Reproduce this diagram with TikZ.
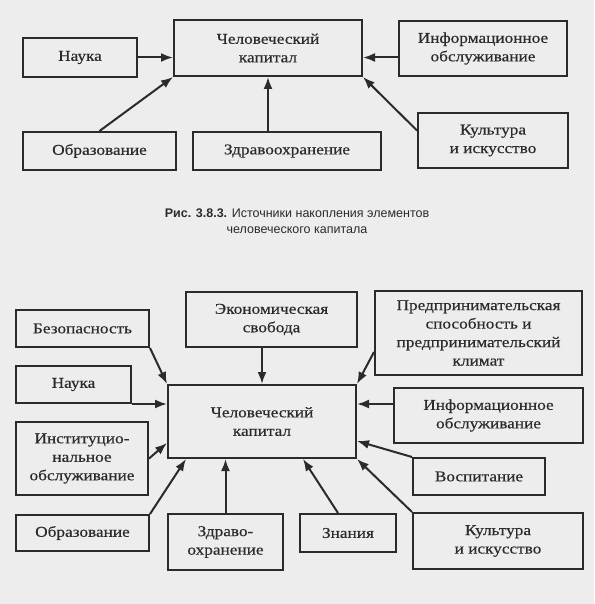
\documentclass[tikz,border=0pt]{standalone}
\usepackage{fontspec}
\setmainfont{Liberation Serif}[FakeStretch=1.15, FakeBold=0.5]
\setsansfont{Liberation Sans}
\usepackage{xcolor}
\definecolor{paper}{HTML}{EDEDED}
\definecolor{ink}{HTML}{2B2B2B}
\usepackage{tikz}
\usetikzlibrary{arrows.meta, positioning, calc}

\begin{document}
\begin{tikzpicture}[x=1pt, y=-1pt, >={Latex[length=12pt,width=9pt]},
    box/.style={draw=ink, line width=2pt, text=ink, align=center,
                inner sep=0pt, font=\fontsize{15}{18.5}\selectfont},
    link/.style={->, draw=ink, line width=2pt}]

  \fill[paper] (0,0) rectangle (594,604);
  \useasboundingbox (0,0) rectangle (594,604);

  % first figure
  \node[box, minimum width=188pt, minimum height=56pt] (kap1) at (268,48)
        {Человеческий\\капитал};
  \node[box, minimum width=114pt, minimum height=39pt] (nauka1) at (80,57.5)
        {Наука};
  \node[box, minimum width=168pt, minimum height=55pt] (info1) at (483,48.5)
        {Информационное\\обслуживание};
  \node[box, minimum width=153pt, minimum height=38pt] (obr1) at (99.5,151)
        {Образование};
  \node[box, minimum width=188pt, minimum height=38pt] (zdr1) at (287,151)
        {Здравоохранение};
  \node[box, minimum width=150pt, minimum height=55pt] (kult1) at (493,140.5)
        {Культура\\и искусство};

  \draw[link] (nauka1.east) -- (nauka1.east -| kap1.west);
  \draw[link] (info1.west |- nauka1.east) -- (kap1.east |- nauka1.east);
  \draw[link] (obr1.north) -- (kap1.south west);
  \draw[link] (zdr1.north -| kap1.south) -- (kap1.south);
  \draw[link] ([yshift=10pt]kult1.west) -- (kap1.south east);

  \node[font=\sffamily\fontsize{12.5}{16}\selectfont, text=ink, align=center] (cap1)
        at (297,221)
        {\textbf{Рис. 3.8.3.} Источники накопления элементов\\человеческого капитала};

  % second figure
  \node[box, minimum width=188pt, minimum height=73pt] (kap2) at (262,421.5)
        {Человеческий\\капитал};
  \node[box, minimum width=133pt, minimum height=37pt] (bez) at (82.5,328.5)
        {Безопасность};
  \node[box, minimum width=171pt, minimum height=55pt] (econ) at (271.5,319.5)
        {Экономическая\\свобода};
  \node[box, minimum width=207pt, minimum height=84pt] (pred) at (478.5,333)
        {Предпринимательская\\способность и\\предпринимательский\\климат};
  \node[box, minimum width=115pt, minimum height=37pt] (nauka2) at (73.5,384.5)
        {Наука};
  \node[box, minimum width=189pt, minimum height=55pt] (info2) at (488.5,415.5)
        {Информационное\\обслуживание};
  \node[box, minimum width=132pt, minimum height=73pt] (inst) at (82,458.5)
        {Институцио-\\нальное\\обслуживание};
  \node[box, minimum width=132pt, minimum height=37pt] (vosp) at (479,476.5)
        {Воспитание};
  \node[box, minimum width=133pt, minimum height=36pt] (obr2) at (82.5,533)
        {Образование};
  \node[box, minimum width=115pt, minimum height=56pt] (zdr2) at (225.5,542)
        {Здраво-\\охранение};
  \node[box, minimum width=96pt, minimum height=38pt] (zn) at (348,533)
        {Знания};
  \node[box, minimum width=170pt, minimum height=56pt] (kult2) at (498,541)
        {Культура\\и искусство};

  \draw[link] (bez.south east) -- (kap2.north west);
  \draw[link] (econ.south -| kap2.north) -- (kap2.north);
  \draw[link] ([yshift=-19pt]pred.west) -- (kap2.north east);
  \draw[link] (nauka2.south east) -- (kap2.west |- nauka2.south east);
  \draw[link] (info2.west |- nauka2.south east) -- (kap2.east |- nauka2.south east);
  \draw[link] (inst.east) -- ([yshift=16pt]kap2.south west);
  \draw[link] (vosp.north west) -- ([yshift=18pt]kap2.south east);
  \draw[link] (obr2.north east) -- ([xshift=19pt]kap2.south west);
  \draw[link] (zdr2.north) -- (zdr2.north |- kap2.south);
  \draw[link] ([xshift=-10pt]zn.north) -- ([xshift=-54pt]kap2.south east);
  \draw[link] (kult2.north west) -- (kap2.south east);

\end{tikzpicture}
\end{document}
